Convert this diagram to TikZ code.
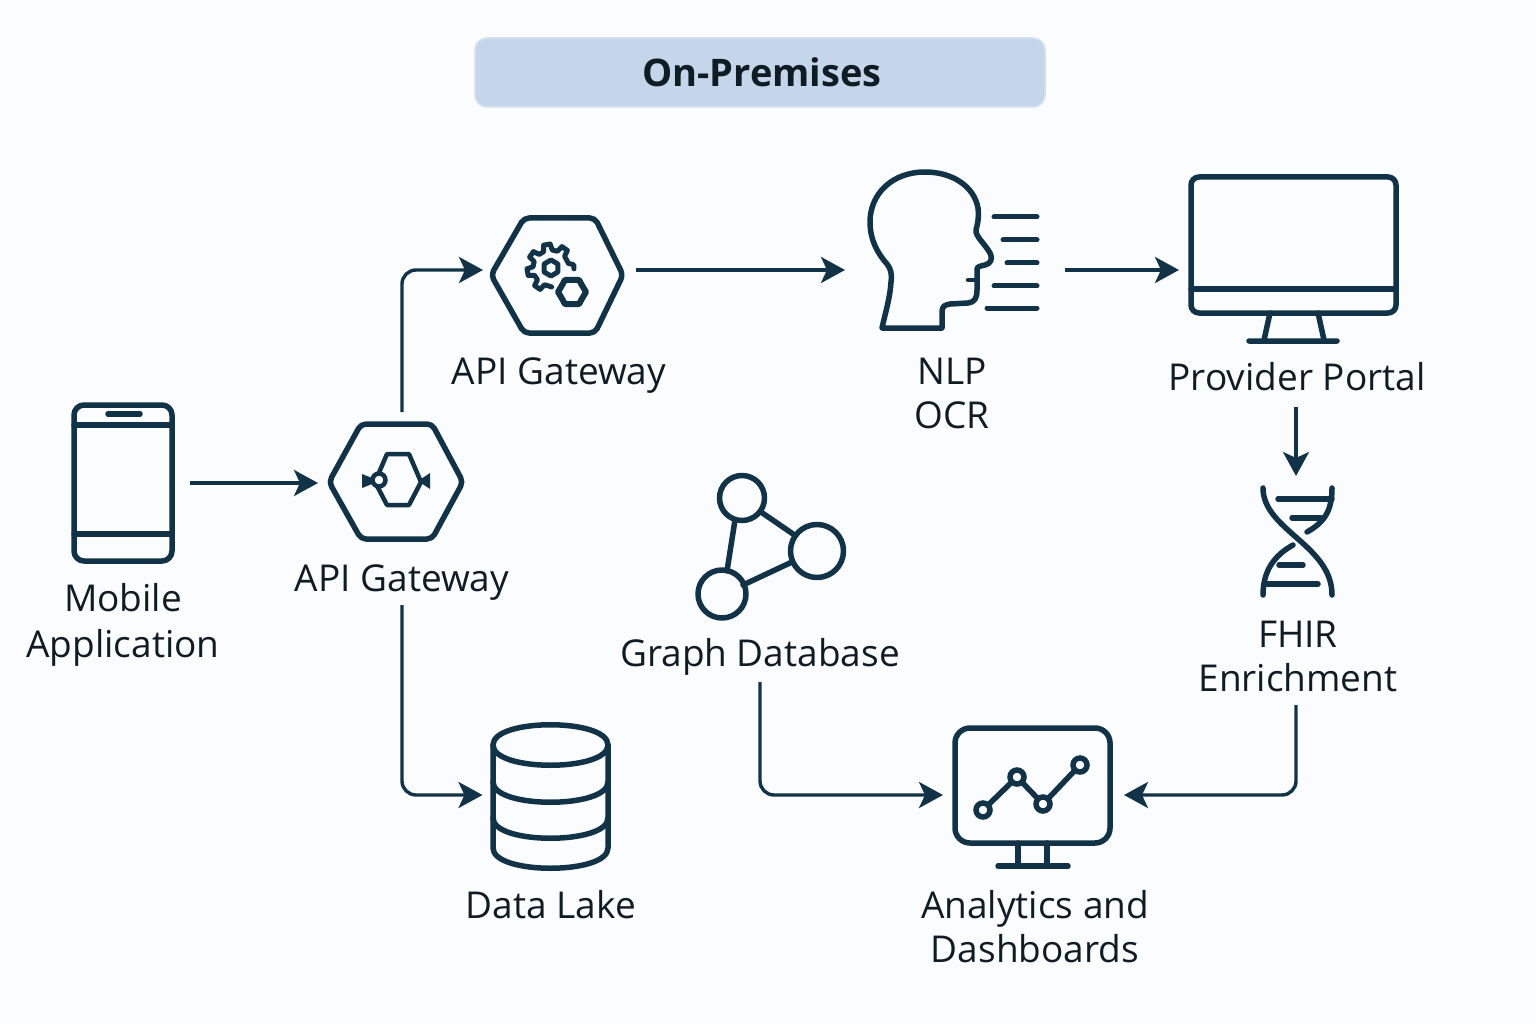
\documentclass[tikz,border=0pt]{standalone}
\usepackage{fontspec}
\setmainfont{Open Sans}
\usetikzlibrary{arrows.meta}
\definecolor{ink}{HTML}{123347}
\definecolor{txt}{HTML}{101C24}
\definecolor{bgc}{HTML}{FBFCFE}
\definecolor{banner}{HTML}{C5D5EA}
\definecolor{bannerl}{HTML}{D3E0F0}
\tikzset{
  icon/.style={line width=5.5pt,draw=ink,line join=round,line cap=round},
  thin icon/.style={line width=4.5pt,draw=ink,line join=round,line cap=round},
  anchorbox/.style={inner sep=0pt,outer sep=0pt,minimum width=#1},
  label text/.style={font=\fontsize{37}{44}\selectfont,text=txt,align=center,inner sep=0pt},
  flow/.style={line width=3.4pt,draw=ink,rounded corners=14pt,-{Stealth[length=24pt,width=26pt,inset=6pt]}}
}
\begin{document}
\begin{tikzpicture}[x=1pt,y=-1pt]
\useasboundingbox (0,0) rectangle (1536,1024);
\fill[bgc] (0,0) rectangle (1536,1024);
\node[draw=bannerl,line width=1.5pt,fill=banner,rounded corners=12pt,minimum width=570pt,minimum height=69pt,inner sep=0pt] (banner) at (760,72.5) {};
\node[font=\fontsize{38}{44}\selectfont\bfseries,text=txt,inner sep=0pt] (title) at (762,72.5) {On-Premises};

% anchor nodes for the icons
\node[anchorbox=102pt,minimum height=160pt] (phone) at (123,483) {};
\node[anchorbox=134pt,minimum height=115pt] (gwa) at (396,483) {};
\node[anchorbox=132pt,minimum height=115pt] (gwb) at (557,270) {};
\node[anchorbox=170pt,minimum height=160pt] (nlp) at (953,270) {};
\node[anchorbox=206pt,minimum height=166pt] (portal) at (1294,270) {};
\node[anchorbox=72pt,minimum height=110pt] (dna) at (1296,542) {};
\node[anchorbox=115pt,minimum height=146pt] (lake) at (550,795) {};
\node[anchorbox=156pt,minimum height=140pt] (dash) at (1033,795) {};
\node[anchorbox=150pt,minimum height=150pt] (graph) at (770,547) {};

% labels
\node[label text] (lphone) at (123,625) {Mobile\\[2pt]Application};
\node[label text] (lgwa) at (402,583) {API Gateway};
\node[label text] (lgwb) at (559,376) {API Gateway};
\node[label text] (lnlp) at (952,393) {NLP\\OCR};
\node[label text] (lportal) at (1297,377) {Provider Portal};
\node[label text] (ldna) at (1298,656) {FHIR\\Enrichment};
\node[label text] (lgraph) at (760,657) {Graph Database};
\node[label text] (llake) at (551,905) {Data Lake};
\node[label text] (ldash) at (1035,927) {Analytics and\\Dashboards};

% phone
\draw[icon] (74,415) arc[start angle=180,end angle=270,radius=10] -- (162,405) arc[start angle=270,end angle=360,radius=10] -- (172,551) arc[start angle=0,end angle=90,radius=10] -- (84,561) arc[start angle=90,end angle=180,radius=10] -- cycle;
\draw[icon] (74,425) -- (172,425) (74,534) -- (172,534) (108,414) -- (140,414);

% lower hexagon
\draw[icon,rounded corners=5pt] (329,482) -- (361,424) -- (432,424) -- (463,482) -- (432,539) -- (361,539) -- cycle;
\draw[thin icon] (375,482) -- (387,454) -- (409,454) -- (421,482) -- (409,505) -- (387,505) -- cycle;
\draw[line width=4.5pt,draw=ink,fill=bgc] (379,480) circle[radius=6.5];
\fill[ink] (362,474) -- (372,478) -- (372,484) -- (362,488) -- cycle;
\fill[ink] (430,473) -- (421,479) -- (421,483) -- (430,489) -- cycle;

% upper hexagon
\draw[icon,rounded corners=5pt] (491,275) -- (524,218) -- (595,218) -- (623,275) -- (595,333) -- (524,333) -- cycle;
\begin{scope}[shift={(551,268)}]
  \draw[line width=5pt,draw=ink,line join=round,line cap=round]
    (88:19) -- (100:18)
    \foreach \a in {125,170,215,260,305}{ -- (\a-14:18) -- (\a-8:24) -- (\a+8:24) -- (\a+14:18) }
    -- (345:18) -- (352:23) -- (2:23);
  \draw[line width=5pt,draw=ink,line join=round] (30:8) -- (90:8) -- (150:8) -- (210:8) -- (270:8) -- (330:8) -- cycle;
\end{scope}
\begin{scope}[shift={(572,292)}]
  \draw[line width=6pt,draw=ink,line join=round]
    (0:14) -- (30:12) -- (60:14) -- (90:12) -- (120:14) -- (150:12) -- (180:14) -- (210:12) -- (240:14) -- (270:12) -- (300:14) -- (330:12) -- cycle;
\end{scope}

% head
\draw[icon]
  (882,328) -- (942,328) -- (942,312)
  .. controls (942,306) and (945,305) .. (950,304)
  -- (968,303)
  .. controls (975,302) and (977,298) .. (977,290)
  -- (977,269)
  .. controls (977,267) and (980,266) .. (985,265)
  .. controls (991,264) and (993,258) .. (990,253)
  .. controls (985,244) and (975,236) .. (976,230)
  .. controls (978,222) and (979,218) .. (978,208)
  .. controls (974,186) and (952,172) .. (925,172)
  .. controls (892,172) and (870,194) .. (870,222)
  .. controls (870,240) and (878,254) .. (887,264)
  .. controls (891,269) and (892,274) .. (891,282)
  .. controls (890,298) and (886,310) .. (882,328) -- cycle;
\draw[thin icon] (968,280) -- (977,280);
\draw[thin icon,line width=5pt] (994,217) -- (1037,217) (1003,240) -- (1037,240) (1007,263) -- (1037,263) (994,286) -- (1037,286) (987,308) -- (1037,308);

% provider monitor
\draw[icon,rounded corners=8pt] (1191,177) rectangle (1396,313);
\draw[icon] (1191,289) -- (1396,289);
\draw[icon] (1270,313) -- (1264,340) (1318,313) -- (1324,340) (1249,341) -- (1337,341);

% DNA
\draw[icon] (1263,488) .. controls (1263,530) and (1332,545) .. (1332,595);
\draw[icon] (1332,488) .. controls (1332,510) and (1325,522) .. (1307,532);
\draw[icon] (1293,545) .. controls (1275,555) and (1263,570) .. (1263,595);
\draw[thin icon,line width=5.5pt] (1278,499) -- (1332,499) (1292,518) -- (1321,518) (1279,565) -- (1303,565) (1265,584) -- (1318,584);

% graph
\draw[icon] (735,520) -- (727,571) (761,512) -- (793,534) (743,585) -- (792,562);
\draw[icon] (742,498) circle[radius=22.5];
\draw[icon] (817,551) circle[radius=26.5];
\draw[icon] (722,594) circle[radius=24];

% data lake
\draw[icon] (493,745) .. controls (493,718) and (608,718) .. (608,745) .. controls (608,772) and (493,772) .. (493,745) -- cycle;
\draw[icon] (493,745) -- (493,848) .. controls (493,875) and (608,875) .. (608,848) -- (608,745);
\draw[icon] (493,782) .. controls (493,809) and (608,809) .. (608,782);
\draw[icon] (493,818) .. controls (493,845) and (608,845) .. (608,818);

% dashboard monitor
\draw[icon,rounded corners=15pt] (955,728) rectangle (1110,843);
\draw[icon] (1018,843) -- (1018,864) (1047,843) -- (1047,864) (998,866) -- (1068,866);
\draw[icon] (983,810) -- (1017,777) -- (1043,804) -- (1080,765);
\foreach \p in {(983,810),(1017,777),(1043,804),(1080,765)}
  \draw[line width=5.5pt,draw=ink,fill=bgc] \p circle[radius=7];

% connectors
\coordinate (gwup) at (402,424);
\coordinate (gwdown) at (402,605);
\coordinate (portalout) at (1296,407);
\coordinate (dnaout) at (1296,705);
\coordinate (graphout) at (760,682);
\draw[flow,shorten <=16pt,shorten >=11pt] (phone.east) -- (gwa.west);
\draw[flow,shorten <=12pt,shorten >=8pt] (gwup) |- (gwb.west);
\draw[flow,shorten >=10pt] (gwdown) |- (lake.west);
\draw[flow,shorten <=13pt,shorten >=23pt] (gwb.east) -- (nlp.west);
\draw[flow,shorten <=27pt,shorten >=12pt] (nlp.east) -- (portal.west);
\draw[flow,shorten >=11pt] (portalout) -- (dna.north);
\draw[flow,shorten >=12pt] (graphout) |- (dash.west);
\draw[flow,shorten >=13pt] (dnaout) |- (dash.east);
\end{tikzpicture}
\end{document}
